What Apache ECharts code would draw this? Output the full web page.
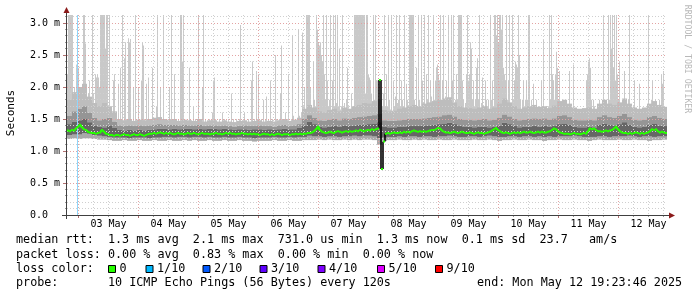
<!DOCTYPE html>
<html><head><meta charset="utf-8">
<script src="https://cdn.jsdelivr.net/npm/echarts@6/dist/echarts.min.js"></script>
<style>html,body{margin:0;padding:0;background:#fff;}#c{width:697px;height:297px;}</style>
</head><body><div id="c"></div>
<script>
// ---------------- DATA (values in ms) ----------------
const dayLabels = ['03 May','04 May','05 May','06 May','07 May','08 May','09 May','10 May','11 May','12 May'];
const lossLabels = ['0','1/10','2/10','3/10','4/10','5/10','9/10'];
const lossColors = ['#26ff00','#00b8ff','#0059ff','#5e00ff','#7e00ff','#dd00ff','#ff0000'];
// loss event columns (24-min steps) and loss count /10
const lossCols = [10];
const lossLevel = [1];

// median rtt, 300 samples (48 min each)
const median = [
1.32,1.31,1.33,1.32,1.35,1.38,1.41,1.37,1.34,1.33,
1.30,1.29,1.28,1.28,1.27,1.28,1.29,1.33,1.30,1.27,
1.26,1.25,1.25,1.24,1.25,1.25,1.24,1.25,1.26,1.25,
1.25,1.24,1.25,1.26,1.25,1.25,1.26,1.25,1.24,1.25,
1.26,1.27,1.27,1.28,1.27,1.28,1.29,1.28,1.27,1.28,
1.27,1.28,1.27,1.26,1.27,1.28,1.27,1.27,1.26,1.27,
1.28,1.27,1.27,1.28,1.27,1.26,1.27,1.28,1.27,1.27,
1.27,1.26,1.27,1.27,1.28,1.27,1.27,1.26,1.27,1.28,
1.27,1.28,1.27,1.27,1.26,1.27,1.27,1.28,1.27,1.27,
1.26,1.27,1.26,1.27,1.26,1.26,1.25,1.26,1.27,1.26,
1.26,1.25,1.26,1.25,1.26,1.27,1.26,1.25,1.26,1.26,
1.26,1.25,1.26,1.26,1.27,1.26,1.27,1.26,1.27,1.27,
1.28,1.28,1.29,1.31,1.34,1.38,1.33,1.30,1.29,1.28,
1.29,1.30,1.29,1.28,1.30,1.31,1.30,1.29,1.30,1.31,
1.30,1.31,1.30,1.31,1.32,1.31,1.33,1.32,1.31,1.32,
1.33,1.32,1.34,1.33,1.34,1.35,2.11,0.72,1.15,1.27,
1.28,1.27,1.28,1.29,1.28,1.28,1.29,1.28,1.30,1.29,
1.30,1.29,1.31,1.32,1.31,1.30,1.31,1.30,1.31,1.30,
1.31,1.32,1.33,1.33,1.34,1.36,1.35,1.32,1.30,1.29,
1.29,1.28,1.29,1.30,1.29,1.28,1.29,1.30,1.29,1.28,
1.28,1.29,1.28,1.27,1.28,1.29,1.28,1.28,1.27,1.28,
1.29,1.30,1.32,1.34,1.36,1.33,1.31,1.29,1.28,1.29,
1.28,1.27,1.28,1.29,1.28,1.29,1.28,1.29,1.30,1.29,
1.29,1.30,1.29,1.28,1.29,1.30,1.29,1.30,1.29,1.29,
1.30,1.31,1.33,1.35,1.34,1.31,1.29,1.28,1.27,1.27,
1.27,1.26,1.27,1.28,1.27,1.27,1.26,1.27,1.28,1.27,
1.31,1.35,1.34,1.35,1.33,1.31,1.31,1.30,1.31,1.32,
1.31,1.32,1.33,1.35,1.38,1.34,1.31,1.29,1.28,1.28,
1.27,1.28,1.27,1.28,1.29,1.28,1.27,1.28,1.27,1.28,
1.29,1.31,1.34,1.33,1.34,1.31,1.29,1.30,1.29,1.28
];

// highest ping per 24-min column, 600 columns (values above the graph top are clipped)
const spikeMax = [
2.2,3.2,3.2,3.2,3.2,3.2,1.9,2.0,1.85,2.35,
2.35,2.3,2.0,1.95,1.8,2.0,3.2,3.2,2.68,1.8,
1.75,1.9,2.1,1.7,1.8,3.2,1.9,1.75,2.2,2.15,
2.2,2.15,2.0,3.2,3.2,3.2,3.2,3.2,2.6,3.2,
3.2,1.5,3.2,1.5,1.45,1.5,2.1,2.2,1.5,1.45,
1.5,2.05,1.45,2.3,1.5,3.2,1.45,2.45,2.7,1.5,
1.5,2.76,2.7,2.75,1.5,1.45,2.0,1.45,3.2,1.5,
1.45,2.0,1.5,1.45,2.1,2.7,2.65,1.5,1.45,2.05,
1.45,2.15,1.5,1.45,1.45,2.3,1.45,1.5,1.45,1.7,
3.2,1.45,1.5,2.0,1.45,1.45,3.2,1.5,1.45,1.45,
1.45,1.5,2.0,1.5,3.2,1.45,1.45,2.2,1.5,1.45,
1.45,1.5,1.45,3.2,3.2,2.4,3.2,1.5,1.45,1.45,
1.45,1.45,2.3,1.5,1.45,1.45,1.7,1.45,1.5,1.45,
1.5,3.2,1.45,1.45,1.45,2.0,3.2,1.45,1.5,1.45,
1.45,1.45,1.5,1.45,1.5,1.6,2.1,2.15,1.5,1.45,
1.45,1.45,1.5,1.45,1.45,1.6,1.45,1.5,1.45,1.45,
1.45,1.5,1.45,1.45,1.9,1.45,1.5,1.45,1.45,1.5,
1.45,1.45,1.5,2.97,1.45,1.45,1.5,1.6,1.45,1.45,
1.45,1.5,1.45,1.45,2.1,2.4,1.45,1.5,1.45,2.25,
1.5,2.2,1.45,1.45,1.5,1.45,1.8,1.45,1.5,1.85,
1.45,1.5,1.45,2.1,1.45,1.5,1.45,1.45,2.5,1.5,
1.45,1.45,1.5,1.9,2.65,1.45,1.5,1.45,1.6,1.45,
1.5,2.2,1.45,1.45,1.5,2.8,1.55,1.45,1.5,1.45,
1.5,2.9,1.55,1.5,1.6,2.85,1.7,2.0,1.6,3.2,
3.2,3.2,3.2,2.0,1.7,1.65,2.4,1.8,1.7,3.2,
2.9,2.7,2.65,2.7,2.5,2.4,3.2,2.2,1.8,3.2,
2.1,1.7,1.8,3.2,1.65,2.1,3.2,1.7,3.2,1.75,
3.2,1.7,2.6,1.65,1.7,3.2,1.6,1.75,1.6,1.8,
2.3,1.7,1.65,1.6,1.9,1.65,1.7,3.2,3.2,3.2,
3.2,3.2,3.2,3.2,3.2,3.2,3.2,3.2,1.9,3.2,
3.2,2.2,2.15,2.1,1.9,1.7,3.2,1.8,3.2,2.1,
2.1,1.7,1.6,1.6,1.65,1.7,1.9,3.2,1.7,2.2,
1.7,3.2,1.8,1.65,3.2,1.6,2.1,1.7,1.85,3.2,
1.75,1.8,3.2,1.7,2.1,1.8,1.7,3.2,1.65,2.05,
1.8,1.7,3.2,3.2,3.2,3.2,3.2,1.8,1.7,2.3,
1.7,3.2,1.8,1.65,3.2,2.1,1.75,3.2,1.7,2.2,
1.8,3.2,1.7,2.1,1.85,1.65,3.2,1.8,2.1,2.3,
2.35,2.2,2.1,3.2,1.8,2.1,3.2,1.7,1.85,2.1,
1.7,3.2,1.8,1.7,3.2,2.1,3.2,1.65,1.8,2.2,
1.8,3.2,3.2,3.2,3.2,2.1,1.8,1.65,1.75,2.2,
3.2,2.1,2.2,2.7,2.6,1.8,2.1,1.7,1.8,2.3,
2.45,1.8,3.2,1.65,1.75,2.15,1.7,1.65,2.1,1.8,
1.7,1.8,1.65,3.2,1.8,2.1,1.7,3.2,3.2,2.8,
3.2,2.7,3.2,3.2,2.9,3.2,2.3,2.2,2.1,3.2,
1.8,2.1,3.2,1.75,1.65,3.2,1.8,2.1,2.4,2.35,
2.3,3.2,2.5,1.8,1.65,1.8,2.1,1.7,1.8,2.1,
1.8,3.2,3.2,1.65,1.8,1.7,2.05,1.65,1.7,1.8,
1.65,1.6,1.7,1.65,2.1,1.7,2.75,1.65,1.6,1.7,
1.65,1.7,3.2,1.8,3.2,2.2,2.1,1.8,2.2,2.55,
2.3,1.8,2.25,1.65,1.7,1.65,1.8,1.65,1.6,1.7,
1.7,1.65,2.25,1.65,1.6,1.65,2.35,1.65,1.6,1.6,
1.6,1.6,1.65,1.6,1.6,1.55,1.6,1.65,1.6,2.1,
2.2,2.4,2.45,2.3,1.8,1.65,1.8,1.7,1.6,1.65,
1.65,1.6,1.8,1.7,1.65,1.7,3.2,1.65,1.6,1.8,
1.65,3.2,1.8,3.2,2.6,3.2,2.3,3.2,2.1,3.2,
2.2,1.8,2.4,1.65,1.7,1.65,1.8,2.25,1.65,1.6,
1.65,1.8,3.2,1.65,1.6,1.65,1.7,2.1,1.65,1.6,
1.6,1.65,2.05,1.6,1.55,1.65,1.6,1.55,1.65,1.6,
1.65,3.2,1.65,1.6,1.8,2.1,1.65,1.7,1.8,1.65,
1.6,1.65,1.8,1.65,2.2,2.05,2.25,1.65,1.6,1.65
];

// smoke bands, 120 samples (2 h each): lowest ping, inner band low/high, mid band high, outer band high
const smokeLo = [
1.19,1.20,1.19,1.20,1.20,1.19,1.18,1.18,1.17,1.16,
1.16,1.17,1.16,1.16,1.17,1.16,1.16,1.17,1.16,1.16,
1.17,1.16,1.16,1.17,1.16,1.17,1.16,1.16,1.17,1.16,
1.16,1.17,1.16,1.16,1.17,1.16,1.16,1.15,1.16,1.16,
1.16,1.17,1.16,1.16,1.17,1.16,1.16,1.17,1.17,1.17,
1.18,1.17,1.18,1.17,1.17,1.18,1.17,1.18,1.17,1.18,
1.18,1.17,1.10,1.16,1.17,1.17,1.18,1.17,1.17,1.18,
1.17,1.18,1.17,1.17,1.18,1.17,1.17,1.18,1.17,1.17,
1.17,1.18,1.17,1.17,1.18,1.17,1.16,1.17,1.17,1.18,
1.17,1.17,1.18,1.17,1.17,1.16,1.17,1.17,1.18,1.17,
1.17,1.18,1.17,1.17,1.16,1.17,1.18,1.17,1.17,1.17,
1.18,1.17,1.17,1.18,1.17,1.17,1.16,1.17,1.17,1.18
];
const smokeInnerLo = [
1.25,1.26,1.26,1.28,1.27,1.25,1.24,1.23,1.22,1.21,
1.21,1.21,1.20,1.21,1.21,1.21,1.20,1.21,1.21,1.22,
1.22,1.21,1.22,1.22,1.21,1.22,1.22,1.21,1.22,1.21,
1.21,1.22,1.21,1.21,1.22,1.21,1.21,1.20,1.21,1.21,
1.21,1.22,1.21,1.21,1.22,1.21,1.22,1.22,1.24,1.23,
1.23,1.22,1.23,1.23,1.22,1.23,1.23,1.24,1.23,1.24,
1.24,1.23,1.20,1.21,1.22,1.22,1.23,1.22,1.23,1.23,
1.22,1.23,1.23,1.22,1.23,1.23,1.24,1.23,1.22,1.22,
1.23,1.23,1.22,1.23,1.24,1.23,1.22,1.22,1.23,1.23,
1.22,1.23,1.23,1.22,1.23,1.22,1.23,1.22,1.23,1.23,
1.23,1.24,1.23,1.22,1.22,1.22,1.23,1.23,1.22,1.23,
1.23,1.23,1.24,1.23,1.22,1.23,1.23,1.22,1.23,1.23
];
const smokeInnerHi = [
1.42,1.46,1.48,1.50,1.45,1.40,1.38,1.37,1.40,1.36,
1.33,1.32,1.33,1.32,1.33,1.32,1.33,1.34,1.35,1.35,
1.34,1.35,1.34,1.35,1.35,1.34,1.35,1.34,1.35,1.35,
1.34,1.35,1.34,1.33,1.34,1.34,1.33,1.34,1.34,1.33,
1.34,1.33,1.34,1.35,1.34,1.34,1.36,1.40,1.46,1.42,
1.38,1.37,1.38,1.39,1.38,1.40,1.39,1.40,1.41,1.41,
1.42,1.43,1.45,1.38,1.37,1.37,1.38,1.38,1.39,1.39,
1.39,1.40,1.40,1.41,1.42,1.43,1.44,1.42,1.39,1.38,
1.38,1.37,1.38,1.38,1.37,1.38,1.40,1.44,1.42,1.39,
1.37,1.38,1.38,1.39,1.38,1.39,1.38,1.39,1.42,1.43,
1.41,1.38,1.37,1.37,1.38,1.37,1.41,1.43,1.41,1.40,
1.42,1.45,1.41,1.38,1.37,1.38,1.41,1.43,1.40,1.39
];
const smokeMid = [
1.55,1.62,1.66,1.70,1.60,1.52,1.48,1.50,1.52,1.46,
1.40,1.39,1.40,1.39,1.40,1.39,1.40,1.41,1.42,1.41,
1.41,1.41,1.40,1.41,1.40,1.40,1.41,1.39,1.40,1.40,
1.39,1.40,1.39,1.38,1.39,1.40,1.39,1.39,1.40,1.39,
1.39,1.38,1.40,1.41,1.39,1.40,1.42,1.50,1.56,1.52,
1.48,1.47,1.49,1.50,1.48,1.51,1.50,1.52,1.53,1.54,
1.55,1.56,1.58,1.48,1.47,1.47,1.48,1.49,1.50,1.50,
1.50,1.51,1.52,1.53,1.54,1.56,1.57,1.54,1.50,1.49,
1.49,1.48,1.49,1.50,1.48,1.49,1.52,1.57,1.54,1.50,
1.48,1.49,1.50,1.51,1.50,1.51,1.49,1.51,1.55,1.56,
1.53,1.49,1.48,1.48,1.49,1.48,1.53,1.56,1.53,1.52,
1.55,1.58,1.53,1.49,1.48,1.49,1.53,1.55,1.52,1.50
];
const smokeHi = [
1.80,1.92,2.00,2.05,1.85,1.75,1.70,1.75,1.70,1.62,
1.50,1.48,1.50,1.47,1.49,1.48,1.50,1.52,1.53,1.50,
1.49,1.50,1.47,1.49,1.48,1.47,1.50,1.46,1.48,1.48,
1.46,1.48,1.46,1.45,1.47,1.48,1.46,1.47,1.48,1.46,
1.47,1.46,1.48,1.50,1.47,1.49,1.52,1.66,1.72,1.68,
1.62,1.60,1.64,1.66,1.62,1.68,1.66,1.70,1.72,1.75,
1.74,1.78,1.80,1.64,1.62,1.63,1.66,1.68,1.70,1.72,
1.70,1.74,1.76,1.78,1.80,1.82,1.84,1.76,1.70,1.68,
1.67,1.66,1.68,1.70,1.66,1.68,1.74,1.82,1.76,1.70,
1.66,1.68,1.70,1.72,1.69,1.70,1.67,1.71,1.78,1.80,
1.74,1.68,1.66,1.67,1.68,1.66,1.74,1.80,1.74,1.72,
1.76,1.82,1.74,1.68,1.66,1.68,1.74,1.78,1.72,1.69
];

// ---------------- LAYOUT ----------------
const HOURS = 240;                 // 10 days shown
const Y_MAX = 3.125;
const startMs = Date.UTC(2025, 4, 2, 19, 23, 46);
const firstMidnightH = (Date.UTC(2025, 4, 3) - startMs) / 3600000;
const noonHours = dayLabels.map((d, i) => firstMidnightH + 12 + 24 * i);
const vGrid = [];
for (let m = 0; firstMidnightH + 6 * m <= HOURS; m++) vGrid.push([firstMidnightH + 6 * m, m % 4 === 0 ? 1 : 0]);
const hGrid = [];
for (let t = 1; t <= 31; t++) hGrid.push([t / 10, t % 5 === 0 ? 1 : 0]);

const spikeStep = HOURS / spikeMax.length;
const medStep = HOURS / median.length;
const smokeStep = HOURS / smokeLo.length;
const colStep = HOURS / 600;

const MONO = '"DejaVu Sans Mono", monospace';
const MAJOR = '#e3a3a3', MINOR = '#cfcfcf';

const chart = echarts.init(document.getElementById('c'), null, {renderer: 'canvas', width: 697, height: 297});

const spikeData = spikeMax.map((v, c) => [c * spikeStep, v, smokeLo[Math.min(smokeLo.length - 1, Math.floor(c * spikeStep / smokeStep))]]);
const smokeData = smokeLo.map((v, k) => [k * smokeStep, v, smokeInnerLo[k], smokeInnerHi[k], smokeMid[k], smokeHi[k]]);
const medData = median.map((v, i) => [i * medStep, v, i > 0 ? median[i - 1] : v]);
const lossData = lossCols.map((c, i) => [c * colStep, lossLevel[i]]);

function crisp(v) { return Math.round(v - 0.5) + 0.5; }

const option = {
  backgroundColor: '#ffffff',
  animation: false,
  grid: {left: 67, top: 15, width: 600, height: 200, containLabel: false},
  xAxis: {
    type: 'value', min: 0, max: HOURS,
    axisLine: {show: false}, axisTick: {show: false}, splitLine: {show: false},
    axisLabel: {
      customValues: noonHours,
      formatter: v => dayLabels[Math.round((v - noonHours[0]) / 24)] || '',
      fontFamily: MONO, fontSize: 10, color: '#000', margin: 4
    }
  },
  yAxis: {
    type: 'value', min: 0, max: Y_MAX, interval: 0.5,
    axisLine: {show: false}, axisTick: {show: false}, splitLine: {show: false},
    axisLabel: {
      showMaxLabel: false,
      formatter: v => {
        if (Math.abs(v * 2 - Math.round(v * 2)) > 1e-6) return '';
        return v === 0 ? '0.0  ' : v.toFixed(1) + ' m';
      },
      fontFamily: MONO, fontSize: 10, color: '#000', margin: 7
    }
  },
  series: [
    { // individual high pings
      type: 'custom', z: 1, silent: true, clip: true, data: spikeData,
      renderItem: (p, api) => {
        const a = api.coord([api.value(0), Math.min(api.value(1), Y_MAX)]);
        const b = api.coord([api.value(0) + spikeStep, api.value(2)]);
        return {type: 'rect', shape: {x: a[0], y: a[1], width: b[0] - a[0], height: b[1] - a[1]}, style: {fill: '#c9c9c9'}};
      }
    },
    { // smoke
      type: 'custom', z: 2, silent: true, clip: true, data: smokeData,
      renderItem: (p, api) => {
        const x0 = api.value(0), x1 = x0 + smokeStep;
        const lv = [api.value(1), api.value(2), api.value(3), api.value(4), api.value(5)];
        const cols = ['#a9a9a9', '#666666', '#959595', '#bdbdbd'];
        const ch = [];
        for (let j = 0; j < 4; j++) {
          const a = api.coord([x0, lv[j + 1]]), b = api.coord([x1, lv[j]]);
          ch.push({type: 'rect', shape: {x: a[0], y: a[1], width: b[0] - a[0], height: b[1] - a[1]}, style: {fill: cols[j]}});
        }
        return {type: 'group', children: ch};
      }
    },
    { // horizontal grid + y ticks
      type: 'custom', z: 3, silent: true, data: hGrid,
      renderItem: (p, api) => {
        const a = api.coord([0, api.value(0)]), b = api.coord([HOURS, api.value(0)]);
        const y = crisp(a[1]), major = api.value(1) === 1;
        return {type: 'group', children: [
          {type: 'line', shape: {x1: a[0], y1: y, x2: b[0], y2: y}, style: {stroke: major ? MAJOR : MINOR, lineWidth: 1, lineDash: [1, 2]}},
          {type: 'line', shape: {x1: a[0] - (major ? 4 : 2), y1: y, x2: a[0], y2: y}, style: {stroke: major ? '#b07070' : '#999', lineWidth: 1}}
        ]};
      }
    },
    { // vertical grid + x ticks
      type: 'custom', z: 3, silent: true, data: vGrid,
      renderItem: (p, api) => {
        const a = api.coord([api.value(0), Y_MAX]), b = api.coord([api.value(0), 0]);
        const x = crisp(a[0]), major = api.value(1) === 1;
        return {type: 'group', children: [
          {type: 'line', shape: {x1: x, y1: a[1], x2: x, y2: b[1]}, style: {stroke: major ? MAJOR : MINOR, lineWidth: 1, lineDash: [1, 2]}},
          {type: 'line', shape: {x1: x, y1: b[1], x2: x, y2: b[1] + (major ? 3 : 2)}, style: {stroke: major ? '#b07070' : '#999', lineWidth: 1}}
        ]};
      }
    },
    { // loss ticks
      type: 'custom', z: 4, silent: true, data: lossData,
      renderItem: (p, api) => {
        const a = api.coord([api.value(0), Y_MAX]), b = api.coord([api.value(0), 0]);
        const x = crisp(a[0]);
        return {type: 'line', shape: {x1: x, y1: a[1], x2: x, y2: b[1]}, style: {stroke: '#8fd6fb', lineWidth: 1}};
      }
    },
    { // median rtt
      type: 'custom', z: 5, silent: true, clip: true, data: medData,
      renderItem: (p, api) => {
        const x0 = api.value(0), v = api.value(1), pv = api.value(2);
        const a = api.coord([x0, v]), b = api.coord([x0 + medStep, v]), c = api.coord([x0, pv]);
        const big = Math.abs(v - pv) > 0.12;
        const ch = [];
        if (Math.abs(v - pv) > 1e-9) ch.push({type: 'line', z2: big ? 1 : 0, shape: {x1: a[0], y1: c[1], x2: a[0], y2: a[1]}, style: {stroke: big ? '#000' : lossColors[0], lineWidth: big ? 1.6 : 2}});
        ch.push({type: 'line', z2: 2, shape: {x1: a[0], y1: a[1], x2: b[0], y2: b[1]}, style: {stroke: lossColors[0], lineWidth: 2}});
        return {type: 'group', children: ch};
      }
    }
  ],
  graphic: {elements: []}
};

// axis lines and arrows
const G = option.graphic.elements;
G.push({type: 'line', z: 10, shape: {x1: 66.5, y1: 12, x2: 66.5, y2: 219}, style: {stroke: '#404040', lineWidth: 1}});
G.push({type: 'line', z: 10, shape: {x1: 62, y1: 215.5, x2: 670, y2: 215.5}, style: {stroke: '#404040', lineWidth: 1}});
G.push({type: 'polygon', z: 10, shape: {points: [[63.5, 13], [69.5, 13], [66.5, 7]]}, style: {fill: '#8b1a1a'}});
G.push({type: 'polygon', z: 10, shape: {points: [[669, 212.5], [669, 218.5], [675, 215.5]]}, style: {fill: '#8b1a1a'}});

// axis title and watermark
G.push({type: 'text', x: 11, y: 113, rotation: Math.PI / 2, style: {text: 'Seconds', font: '11px ' + MONO, fill: '#000', textAlign: 'center', textVerticalAlign: 'middle'}});
G.push({type: 'text', x: 687, y: 59, rotation: -Math.PI / 2, style: {text: 'RRDTOOL / TOBI OETIKER', font: '8.2px ' + MONO, fill: '#b8b8b8', textAlign: 'center', textVerticalAlign: 'middle'}});

// legend
const LF = '11.75px ' + MONO;
const legendRows = [
  {y: 240, x: 16, text: 'median rtt:  1.3 ms avg  2.1 ms max  731.0 us min  1.3 ms now  0.1 ms sd  23.7   am/s'},
  {y: 255, x: 16, text: 'packet loss: 0.00 % avg  0.83 % max  0.00 % min  0.00 % now'},
  {y: 269, x: 16, text: 'loss color:'},
  {y: 283, x: 16, text: 'probe:       10 ICMP Echo Pings (56 Bytes) every 120s'},
  {y: 283, x: 477, text: 'end: Mon May 12 19:23:46 2025'}
];
legendRows.forEach(r => G.push({type: 'text', style: {x: r.x, y: r.y, text: r.text, font: LF, fill: '#000', textAlign: 'left', textVerticalAlign: 'middle'}}));
const boxX = [108.5, 146, 203, 260, 318, 377.5, 435.5];
lossLabels.forEach((lab, i) => {
  G.push({type: 'rect', shape: {x: boxX[i], y: 265.5, width: 7, height: 7}, style: {fill: lossColors[i], stroke: '#000', lineWidth: 1}});
  G.push({type: 'text', style: {x: boxX[i] + 11, y: 269, text: lab, font: LF, fill: '#000', textAlign: 'left', textVerticalAlign: 'middle'}});
});

chart.setOption(option);
</script>
</body></html>
